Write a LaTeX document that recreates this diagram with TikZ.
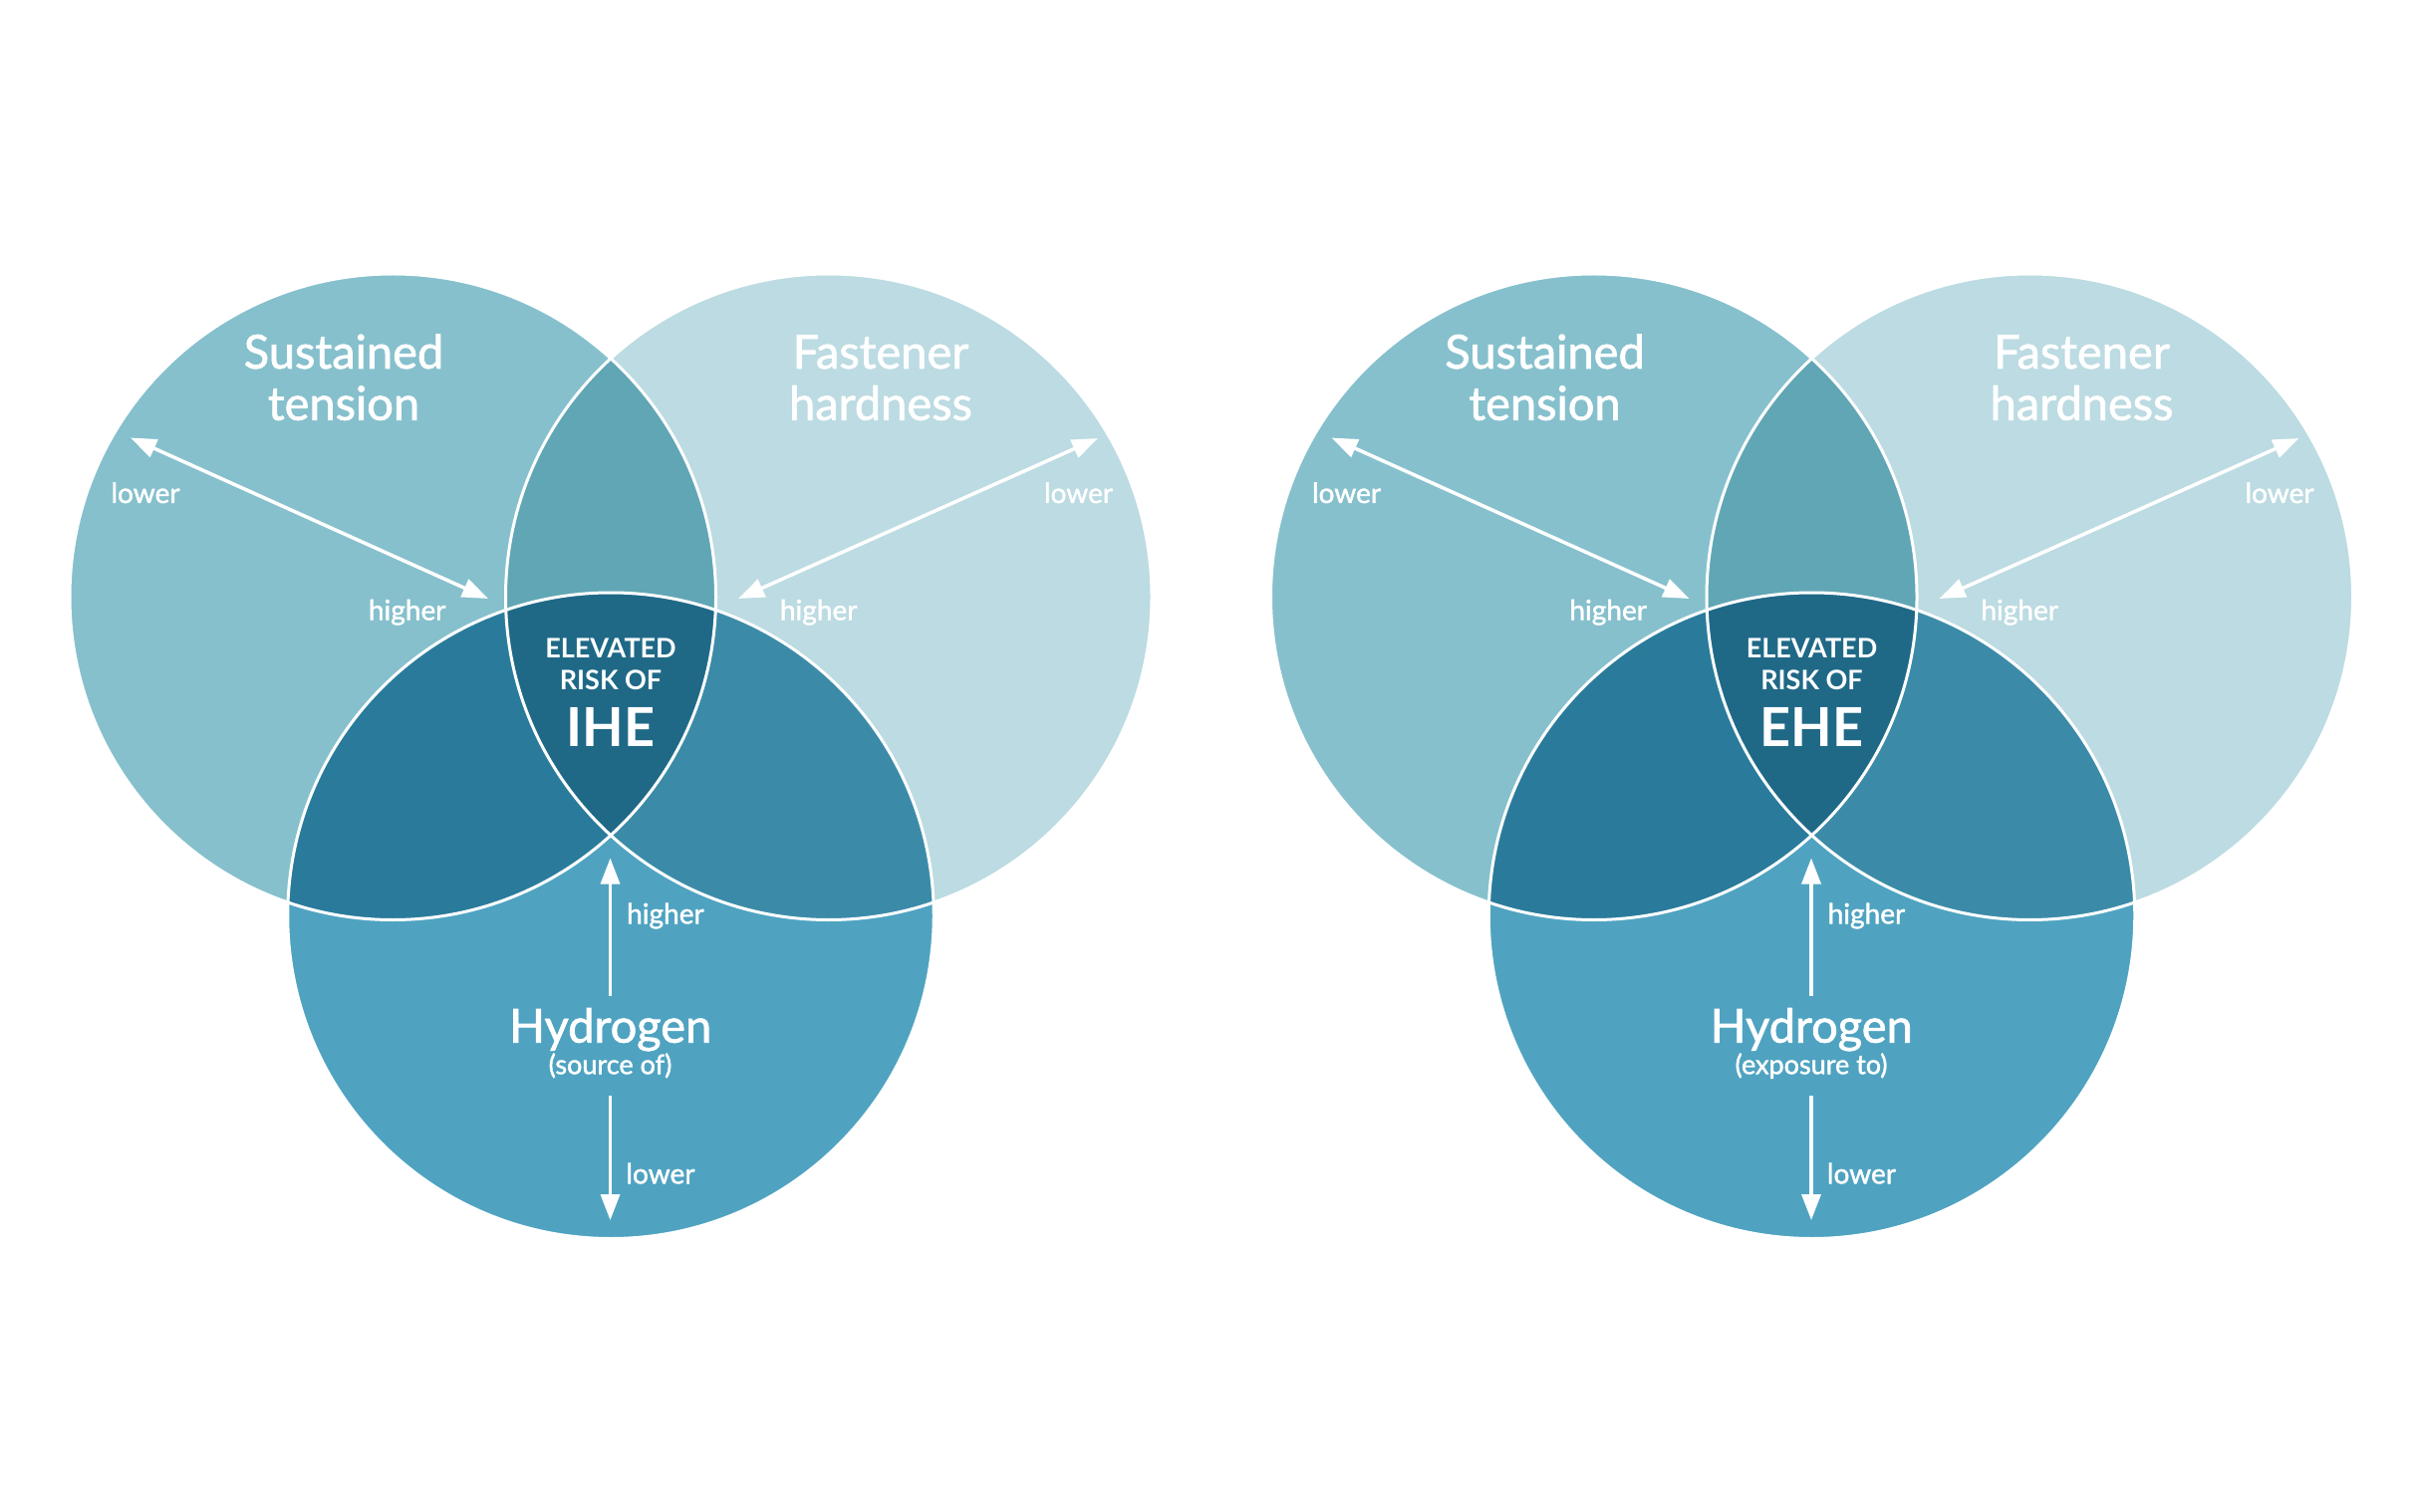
\documentclass[tikz,border=0pt]{standalone}
\usepackage{fontspec}
\setmainfont{Lato}
\newfontfamily\medfont{Lato}[FakeBold=1.5]
\usetikzlibrary{arrows.meta}
\definecolor{cA}{HTML}{86C0CD}
\definecolor{cB}{HTML}{BCDBE2}
\definecolor{cC}{HTML}{4FA3C1}
\definecolor{cAB}{HTML}{61A6B5}
\definecolor{cAC}{HTML}{2A7B9B}
\definecolor{cBC}{HTML}{3B8BA8}
\definecolor{cABC}{HTML}{1F6987}
\newcommand\VR{162.125pt}
\tikzset{
  ring/.style={draw=white, line width=1.5pt},
  dbl/.style={draw=white, line width=1.75pt, {Triangle[length=13pt,width=9.5pt]}-{Triangle[length=13pt,width=9.5pt]}},
  uni/.style={draw=white, line width=1.75pt, -{Triangle[length=13pt,width=9.5pt]}},
  title/.style={text=white, font=\medfont\fontsize{23.5}{26}\selectfont, anchor=base, inner sep=0pt},
  sub/.style={text=white, font=\medfont\fontsize{13.5}{16}\selectfont, anchor=base, inner sep=0pt},
  small/.style={text=white, font=\medfont\fontsize{14}{16}\selectfont, inner sep=0pt},
  caps/.style={text=white, font=\bfseries\fontsize{13.5}{16}\selectfont, anchor=base, inner sep=0pt},
  big/.style={text=white, font=\bfseries\fontsize{27}{30}\selectfont, anchor=base, inner sep=0pt},
}
\newcommand\VennDiagram[3]{%
\begin{scope}[shift={(#1,0)}, name prefix=#2-]
  \coordinate (c1) at (394.25,599.25);
  \coordinate (c2) at (831.75,599.25);
  \coordinate (c3) at (613,919.25);
  \fill[cA] (c1) circle[radius=\VR];
  \fill[cB] (c2) circle[radius=\VR];
  \fill[cC] (c3) circle[radius=\VR];
  \begin{scope}
    \clip (c2) circle[radius=\VR];
    \fill[cBC] (c3) circle[radius=\VR];
  \end{scope}
  \begin{scope}
    \clip (c1) circle[radius=\VR];
    \fill[cAB] (c2) circle[radius=\VR];
    \fill[cAC] (c3) circle[radius=\VR];
    \clip (c2) circle[radius=\VR];
    \fill[cABC] (c3) circle[radius=\VR];
  \end{scope}
  \draw[ring] (c1) circle[radius=\VR];
  \draw[ring] (c2) circle[radius=\VR];
  \draw[ring] (c3) circle[radius=\VR];
  % titles
  \node[title] (t1a) at (345,370) {Sustained};
  \node[title] (t1b) at (345,421.7) {tension};
  \node[title] (t2a) at (884,370) {Fastener};
  \node[title] (t2b) at (884,421.7) {hardness};
  \node[caps] (e1) at (613,660) {ELEVATED};
  \node[caps] (e2) at (613,692.7) {RISK OF};
  \node[big] (e3) at (613,749.3) {#2};
  \node[title] (h1) at (612.7,1046.7) {Hydrogen};
  \node[sub] (h2) at (612.5,1078.3) {#3};
  % labels
  \node[small, anchor=base] (lw1) at (146,505) {lower};
  \node[small, anchor=base] (hi1) at (408.7,622.5) {higher};
  \node[small, anchor=base] (lw2) at (1082.5,505) {lower};
  \node[small, anchor=base] (hi2) at (821.7,622.5) {higher};
  \node[small, anchor=base west] (hi3) at (628.8,927.3) {higher};
  \node[small, anchor=base west] (lw3) at (628,1188.3) {lower};
  % arrows
  \coordinate (a1) at (131,439.5);
  \coordinate (a2) at (490,601);
  \coordinate (b1) at (741,601);
  \coordinate (b2) at (1102,440);
  \coordinate (v1) at (612.5,999.5);
  \coordinate (v2) at (612.5,861.5);
  \coordinate (w1) at (612.5,1100);
  \coordinate (w2) at (612.5,1225);
  \draw[dbl] (a1) -- (a2);
  \draw[dbl] (b1) -- (b2);
  \draw[uni] (v1) -- (v2);
  \draw[uni] (w1) -- (w2);
\end{scope}}
\begin{document}
\begin{tikzpicture}[x=0.5pt, y=-0.5pt]
  \fill[white] (0,0) rectangle (2430,1518);
  \useasboundingbox (0,0) rectangle (2430,1518);
  \VennDiagram{0}{IHE}{(source of)}
  \VennDiagram{1205.5}{EHE}{(exposure to)}
\end{tikzpicture}
\end{document}
